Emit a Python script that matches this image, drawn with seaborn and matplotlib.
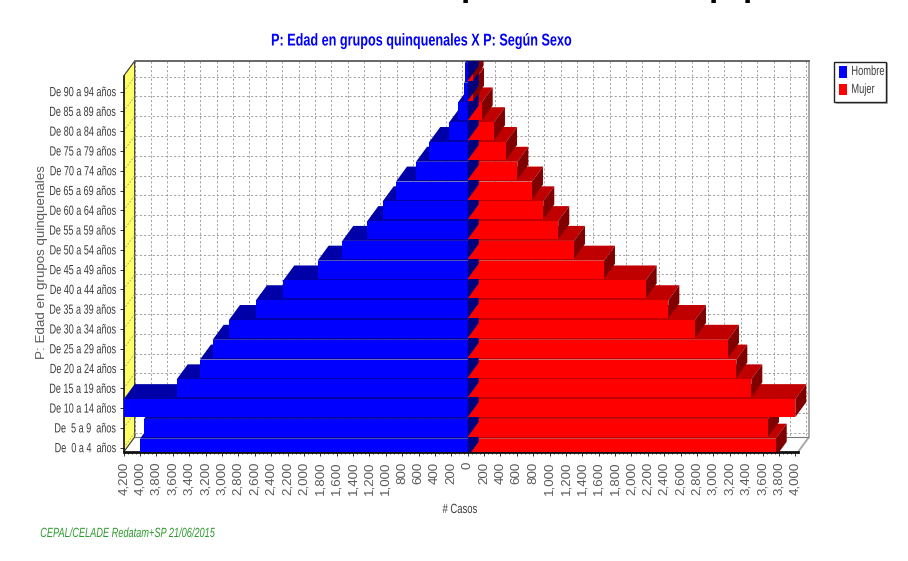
"""Piramide de poblacion con efecto 3D, estilo Redatam."""

import matplotlib

matplotlib.use("Agg")
import matplotlib.patheffects as pe
import matplotlib.pyplot as plt
import pandas as pd
import seaborn as sns
from matplotlib.patches import Polygon, Rectangle
from matplotlib.transforms import Affine2D

AGES = [
    "De 95 y más", "De 90 a 94 años", "De 85 a 89 años", "De 80 a 84 años", "De 75 a 79 años",
    "De 70 a 74 años", "De 65 a 69 años", "De 60 a 64 años", "De 55 a 59 años", "De 50 a 54 años",
    "De 45 a 49 años", "De 40 a 44 años", "De 35 a 39 años", "De 30 a 34 años", "De 25 a 29 años",
    "De 20 a 24 años", "De 15 a 19 años", "De 10 a 14 años", "De  5 a 9  años", "De  0 a 4  años",
]
TICK_LABELS = [""] + AGES[1:]
HOMBRE = [35, 45, 118, 225, 469, 631, 875, 1038, 1226, 1531, 1832, 2252, 2585, 2915, 3114, 3269, 3553, 4200, 3952, 4001]
MUJER = [60, 65, 171, 321, 468, 606, 785, 923, 1106, 1298, 1664, 2173, 2450, 2775, 3178, 3280, 3463, 4000, 3667, 3761]
X_TICKS = list(range(-4200, 4001, 200))
X_MINOR = list(range(-4200, 4001, 50))

PX_PER_CASE = 0.0819
PX_PER_ROW = 19.78
DX = 11 / PX_PER_CASE
DY = 15 / PX_PER_ROW
BAR_H = 18 / PX_PER_ROW

COLORS = {"Hombre": "#0000ff", "Mujer": "#ff0000"}
TOPS = {"Hombre": "#0000a8", "Mujer": "#c00000"}
SIDES = {"Hombre": "#00007c", "Mujer": "#800000"}


class Condensed(pe.AbstractPathEffect):
    """Squeeze text along its baseline, there is no narrow font installed."""

    def __init__(self, factor, anchor=0.0):
        super().__init__()
        self.factor = factor
        self.anchor = anchor

    def draw_path(self, renderer, gc, tpath, affine, rgbFace=None):
        ext = tpath.get_extents()
        pivot = ext.x0 + self.anchor * ext.width
        squeeze = Affine2D().translate(-pivot, 0).scale(self.factor, 1).translate(pivot, 0)
        renderer.draw_path(gc, tpath, squeeze + affine, rgbFace)


df = pd.DataFrame(
    {
        "edad": AGES * 2,
        "casos": [-v for v in HOMBRE] + MUJER,
        "sexo": ["Hombre"] * len(AGES) + ["Mujer"] * len(AGES),
    }
)

W, H = 908, 561
LEFT, RIGHT, TOP, BOTTOM = 123.7, 809, 61, 452

plt.rcParams["font.family"] = ["Liberation Sans", "DejaVu Sans"]
fig = plt.figure(figsize=(W / 100, H / 100), dpi=100)
ax = fig.add_axes([LEFT / W, 1 - BOTTOM / H, (RIGHT - LEFT) / W, (BOTTOM - TOP) / H])

sns.barplot(
    data=df, x="casos", y="edad", hue="sexo", order=AGES, hue_order=["Mujer", "Hombre"],
    palette=COLORS, dodge=False, width=BAR_H, saturation=1, legend=False, ax=ax,
)

n = len(AGES)
x_min = -4200
x_max = x_min + (RIGHT - LEFT) / PX_PER_CASE
x_front = x_max - DX
y_low = (n - 1) + (452 - 447.7) / PX_PER_ROW
y_high = y_low - (BOTTOM - TOP) / PX_PER_ROW
y_plane = y_high + DY
ax.set_xlim(x_min, x_max)
ax.set_ylim(y_low, y_high)

# paredes: fondo blanco, lateral amarilla, piso
ax.add_patch(Polygon([(x_min, y_low), (x_min, y_plane), (x_min + DX, y_high), (x_min + DX, y_low - DY)],
                     fc="#ffff66", ec="#333333", lw=0.8, zorder=1.5))
ax.plot([x_max, x_max, x_front], [y_high, y_low - DY, y_low], color="#a8a8a8", lw=1.4, zorder=1.6, clip_on=False)
ax.plot([x_min + DX, x_max], [y_low - DY, y_low - DY], color="#777777", lw=0.8, zorder=1.6)
ax.plot([x_min + DX, x_max], [y_high, y_high], color="#666666", lw=1.4, zorder=1.6, clip_on=False)

grid = dict(color="#a0a0a0", lw=0.7, ls=(0, (2.2, 2.2)), zorder=1.4)
for v in X_TICKS:
    ax.plot([v + DX, v + DX], [y_high, y_low - DY], **grid)
for i in range(1, n):
    ax.plot([x_min + DX, x_max], [i - DY, i - DY], **grid)
    ax.plot([x_min, x_min + DX], [i, i - DY], color="#a0a070", lw=0.6, ls=(0, (2, 2)), zorder=1.55)

# caras 3D: fila de abajo primero, y en cada fila mujeres antes que hombres
mujeres, hombres = [sorted(c, key=lambda b: -b.get_y()) for c in ax.containers]
z = 2.0
for row in zip(mujeres, hombres):
    for bar, sexo in zip(row, ["Mujer", "Hombre"]):
        x0, x1 = sorted((bar.get_x(), bar.get_x() + bar.get_width()))
        y_top, y_bot = bar.get_y(), bar.get_y() + bar.get_height()
        ax.add_patch(Polygon([(x0, y_top), (x1, y_top), (x1 + DX, y_top - DY), (x0 + DX, y_top - DY)],
                             fc=TOPS[sexo], ec="none", zorder=z))
        ax.add_patch(Polygon([(x1, y_top), (x1 + DX, y_top - DY), (x1 + DX, y_bot - DY), (x1, y_bot)],
                             fc=SIDES[sexo], ec="none", zorder=z + 0.001))
        if sexo == "Mujer":
            bar.set_zorder(z + 0.002)
        else:
            bar.set_zorder(z + 0.0005)
        z += 0.003

# ejes
for spine in ax.spines.values():
    spine.set_visible(False)
ax.plot([x_min, x_front], [y_low, y_low], color="#111111", lw=2, zorder=1.7, clip_on=False)
ax.plot([x_min, x_min], [y_plane, y_low], color="#111111", lw=1.2, zorder=1.7, clip_on=False)

ax.set_xticks(X_TICKS)
ax.set_xticks(X_MINOR, minor=True)
ax.set_xticklabels([f"{abs(v):,}" for v in X_TICKS], rotation=90, fontsize=9.6, color="#5a5a5a")
ax.tick_params(axis="x", length=3, width=0.7, color="#333333", pad=4)
ax.tick_params(axis="x", which="minor", length=1.5, width=0.6, color="#333333")
ax.set_yticks(range(1, n))
ax.set_yticklabels(TICK_LABELS[1:], fontsize=9.6, color="#3c3c3c",
                   path_effects=[Condensed(0.68, anchor=1.0)])
ax.tick_params(axis="y", length=3, width=0.7, color="#333333", pad=2)
ax.set_xlabel("")
ax.set_ylabel("")

fig.text(422 / W, 1 - 41 / H, "P: Edad en grupos quinquenales X P: Según Sexo", ha="center", va="center",
         fontsize=12.3, fontweight="bold", color="#0000ff", path_effects=[Condensed(0.74, anchor=0.5)])
fig.text(460 / W, 1 - 510 / H, "# Casos", ha="center", va="center", fontsize=9.6, color="#3c3c3c",
         path_effects=[Condensed(0.71, anchor=0.5)])
fig.text(42 / W, 1 - 262 / H, "P: Edad en grupos quinquenales", rotation=90, ha="center", va="center",
         fontsize=9.6, color="#5a5a5a")
fig.text(40 / W, 1 - 534 / H, "CEPAL/CELADE Redatam+SP 21/06/2015", ha="left", va="center",
         fontsize=9.6, style="italic", color="#2e9a2e", path_effects=[Condensed(0.69)])

# restos del titulo recortado por el borde superior
for x in [461, 709, 743]:
    fig.text(x / W, 1 + 4 / H, "p", ha="left", va="baseline", fontsize=24, fontweight="bold", color="black")

# leyenda
fig.add_artist(Rectangle((836 / W, 1 - 104 / H), 52 / W, 41 / H, transform=fig.transFigure, fc="#b5b5b5", ec="none"))
fig.add_artist(Rectangle((834 / W, 1 - 102 / H), 52 / W, 40 / H, transform=fig.transFigure, fc="white", ec="#222222", lw=1))
for label, y in [("Hombre", 72), ("Mujer", 90)]:
    fig.add_artist(Rectangle((839 / W, 1 - (y + 5.5) / H), 8 / W, 11 / H, transform=fig.transFigure, fc=COLORS[label], ec="none"))
    fig.text(851 / W, 1 - y / H, label, ha="left", va="center", fontsize=9.6, color="#3c3c3c",
             path_effects=[Condensed(0.70)])

fig.savefig("out.png", dpi=100)
